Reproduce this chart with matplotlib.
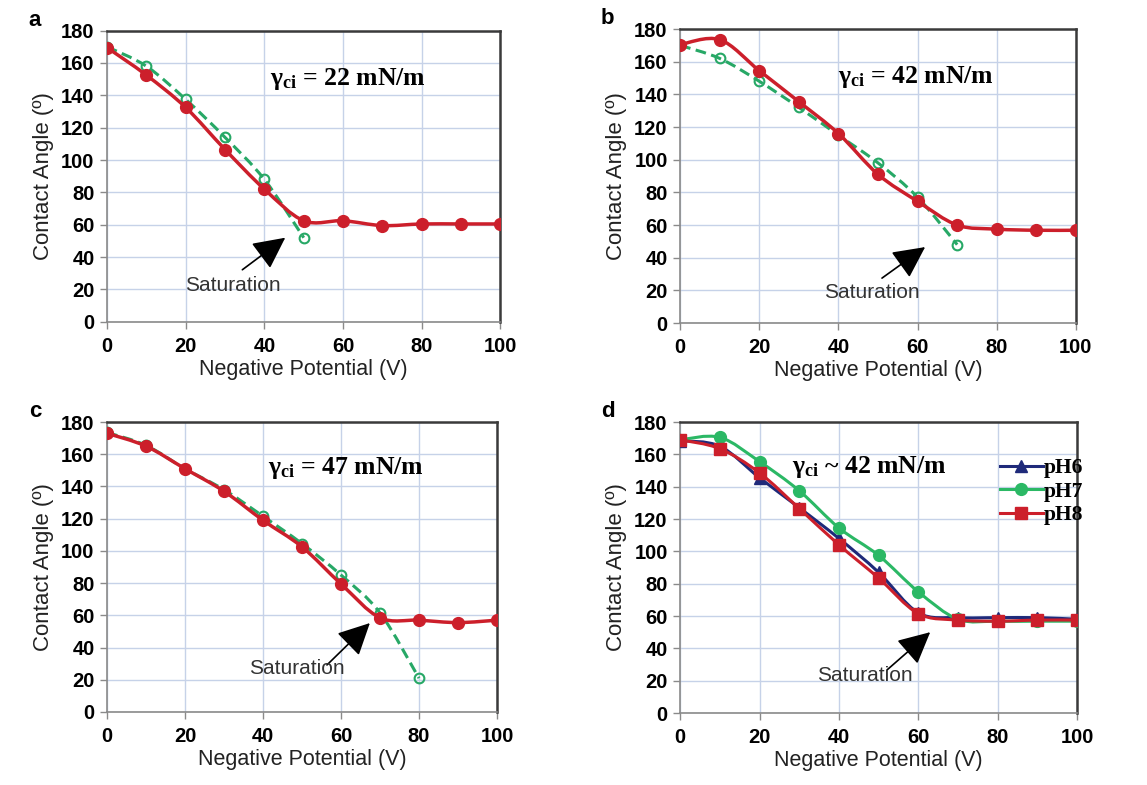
import numpy as np
import matplotlib
matplotlib.use('Agg')
import matplotlib.pyplot as plt
from matplotlib.path import Path
from matplotlib.patches import PathPatch
from matplotlib.lines import Line2D

plt.rcParams['font.family'] = 'Liberation Sans'
plt.rcParams['mathtext.fontset'] = 'custom'
plt.rcParams['mathtext.rm'] = 'Liberation Serif:bold'
plt.rcParams['mathtext.it'] = 'Liberation Serif:bold'
plt.rcParams['mathtext.bf'] = 'Liberation Serif:bold'

# data
volts = [0, 10, 20, 30, 40, 50, 60, 70, 80, 90, 100]

a_meas = [169.5, 152.5, 132.5, 106.5, 82, 62.5, 62.5, 59.5, 60.5, 60.5, 60.5]
a_theo = [170, 158, 137.5, 114, 88, 52]

b_meas = [170.5, 173.5, 154.5, 135.5, 116, 91, 74.5, 60, 57.5, 56.8, 56.8]
b_theo = [170, 162, 148, 132, 115, 98, 77, 48]

c_meas = [173, 165, 151, 137, 119, 102.5, 79.5, 58.5, 57, 55.5, 57]
c_theo = [173.5, 165.5, 151, 138, 121.5, 104.5, 85, 61.5, 21]

d_ph6 = [168.5, 165, 145.5, 127, 108, 87, 62, 59, 59, 59, 58]
d_ph7 = [169, 170.5, 155.5, 137.5, 114.5, 97.5, 75, 58, 56.8, 56.8, 56.8]
d_ph8 = [169, 163.5, 148.5, 126.5, 104, 83.5, 61.5, 57.5, 56.8, 57.5, 57.5]

gamma_lbl = [u'\u03b3$_{\\mathrm{ci}}$ = 22 mN/m', u'\u03b3$_{\\mathrm{ci}}$ = 42 mN/m',
             u'\u03b3$_{\\mathrm{ci}}$ = 47 mN/m', u'\u03b3$_{\\mathrm{ci}}$ ~ 42 mN/m']
panel_lbl = ['a', 'b', 'c', 'd']
ph_lbl = ['pH6', 'pH7', 'pH8']

RED = '#cc1f2b'
GREEN = '#27a866'
BLUE = '#1f2a7a'
GREEN7 = '#2bb865'


def smooth_line(ax, x, y, **kw):
    # excel style smoothed line (bezier through the points)
    x = np.asarray(x, float); y = np.asarray(y, float)
    n = len(x)
    verts = [(x[0], y[0])]
    codes = [Path.MOVETO]
    for i in range(n-1):
        p0 = max(i-1, 0)
        p3 = min(i+2, n-1)
        c1 = (x[i]+(x[i+1]-x[p0])/6., y[i]+(y[i+1]-y[p0])/6.)
        c2 = (x[i+1]-(x[p3]-x[i])/6., y[i+1]-(y[p3]-y[i])/6.)
        verts += [c1, c2, (x[i+1], y[i+1])]
        codes += [Path.CURVE4]*3
    ax.add_patch(PathPatch(Path(verts, codes), fill=False, transform=ax.transData, **kw))


fig = plt.figure(figsize=(11.47, 7.85), dpi=100)
boxes = [[0.0933, 0.590, 0.343, 0.371],
         [0.593, 0.5885, 0.345, 0.3745],
         [0.0933, 0.093, 0.340, 0.3694],
         [0.593, 0.0917, 0.346, 0.3707]]
axs = [fig.add_axes(b) for b in boxes]

for k, ax in enumerate(axs):
    ax.set_xlim(0, 100)
    ax.set_ylim(0, 180)
    ax.set_xticks(np.arange(0, 101, 20))
    ax.set_yticks(np.arange(0, 181, 20))
    ax.grid(True, color='#c6d2e8', lw=1.0)
    ax.set_axisbelow(True)
    for s in ['left', 'bottom']:
        ax.spines[s].set_color('#8a8a8a')
        ax.spines[s].set_linewidth(1.2)
    for s in ['top', 'right']:
        ax.spines[s].set_color('#3a3a3a')
        ax.spines[s].set_linewidth(1.8)
    ax.tick_params(direction='out', length=5, color='#8a8a8a', width=1, pad=4)
    ax.tick_params(axis='x', pad=6)
    for t in ax.get_xticklabels() + ax.get_yticklabels():
        t.set_fontweight('bold')
        t.set_fontsize(14.5)
    ax.set_xlabel('Negative Potential (V)', fontsize=15.5, labelpad=2, color='#222222')
    ax.set_ylabel(u'Contact Angle (\u00ba)', fontsize=16, labelpad=5, color='#222222')
    ax.text(-0.2, 1.035, panel_lbl[k], transform=ax.transAxes, fontsize=16,
            fontweight='bold', ha='left', va='center')

# panels a-c: measured (red, solid) and model (green, dashed)
meas = [a_meas, b_meas, c_meas]
theo = [a_theo, b_theo, c_theo]
for k in range(3):
    ax = axs[k]
    xt = volts[:len(theo[k])]
    smooth_line(ax, xt, theo[k], edgecolor=GREEN, lw=2.2, linestyle=(0, (3.5, 1.8)), zorder=3)
    ax.plot(xt, theo[k], ls='none', marker='o', ms=7, mfc='none', mec=GREEN, mew=1.5, zorder=4)
    smooth_line(ax, volts, meas[k], edgecolor=RED, lw=2.5, zorder=5)
    ax.plot(volts, meas[k], ls='none', marker='o', ms=8.5, color=RED, zorder=6)

# panel d: pH series
ax = axs[3]
series = [(d_ph6, BLUE, '^', 8), (d_ph7, GREEN7, 'o', 8.5), (d_ph8, RED, 's', 8.5)]
handles = []
for (yv, c, m, ms), lab in zip(series, ph_lbl):
    smooth_line(ax, volts, yv, edgecolor=c, lw=2.2, zorder=4)
    ax.plot(volts, yv, ls='none', marker=m, ms=ms, color=c, zorder=5)
    handles.append(Line2D([], [], color=c, lw=2.2, marker=m, ms=ms))
ax.legend(handles, ph_lbl, loc='upper left', bbox_to_anchor=(0.805, 0.875), frameon=False,
          handlelength=2.0, handletextpad=0.05, labelspacing=0.15, borderpad=0, borderaxespad=0,
          prop={'family': 'Liberation Serif', 'weight': 'bold', 'size': 15.5})

# gamma labels
gpos = [(41.5, 150), (40, 150.5), (41.3, 151.5), (28.2, 152)]
for k, ax in enumerate(axs):
    ax.text(gpos[k][0], gpos[k][1], gamma_lbl[k], fontsize=18.5, fontweight='bold',
            family='Liberation Serif', ha='left', va='center', zorder=7)

# saturation arrows
arr = [((34.4, 32.2), (45.3, 52), (32.1, 22.3)),
       ((51, 27.5), (61.9, 46.5), (48.5, 18.4)),
       ((56.4, 29.2), (67.4, 55.2), (48.7, 27.3)),
       ((52.1, 26.6), (63, 50), (46.6, 22.9))]
for k, ax in enumerate(axs):
    tail, tip, txt = arr[k]
    ax.annotate('', xy=tip, xytext=tail,
                arrowprops=dict(arrowstyle='-|>,head_length=0.9,head_width=0.45',
                                mutation_scale=22, color='black', lw=1.2, shrinkA=0, shrinkB=0),
                zorder=7)
    ax.text(txt[0], txt[1], 'Saturation', fontsize=15, color='#333333',
            ha='center', va='center', zorder=7)

fig.savefig('out.png', dpi=100)
